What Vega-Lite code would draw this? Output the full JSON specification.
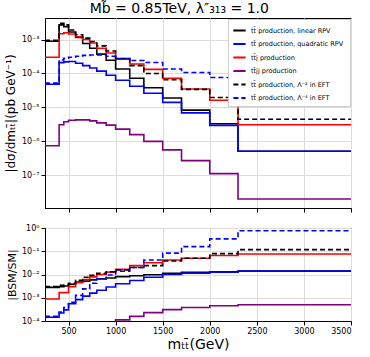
{
"$schema": "https://vega.github.io/schema/vega-lite/v6.json",
"padding": {"left": 3, "top": 1, "right": 12, "bottom": 1},
"config": {"font": "DejaVu Sans", "view": {"stroke": "black", "strokeWidth": 1},
 "axis": {"gridColor": "#dcdcdc", "gridWidth": 1, "tickColor": "black", "domainColor": "black", "labelColor": "black", "titleColor": "black", "labelFontSize": 8, "tickSize": 4, "labelPadding": 2, "titleFontWeight": "normal", "labelFont": "DejaVu Sans", "titleFont": "DejaVu Sans"}},
"title": {"text": "Mb̃ = 0.85TeV, λ″₃₁₃ = 1.0", "fontSize": 14, "fontWeight": "normal", "anchor": "middle", "offset": 2, "font": "DejaVu Sans"},
"datasets": {"d": [
{"m":250,"s":"lin","v":8.9e-4,"r":2.8e-3},{"m":400,"s":"lin","v":2.69e-3,"r":3.0e-3},{"m":450,"s":"lin","v":2.4e-3,"r":3.2e-3},{"m":500,"s":"lin","v":1.66e-3,"r":3.8e-3},{"m":575,"s":"lin","v":1.15e-3,"r":4.7e-3},{"m":650,"s":"lin","v":7.6e-4,"r":5.2e-3},{"m":725,"s":"lin","v":5.5e-4,"r":5.9e-3},{"m":800,"s":"lin","v":3.7e-4,"r":6.5e-3},{"m":900,"s":"lin","v":2.45e-4,"r":7.1e-3},{"m":1000,"s":"lin","v":1.35e-4,"r":8.1e-3},{"m":1150,"s":"lin","v":7.2e-5,"r":8.9e-3},{"m":1300,"s":"lin","v":3.8e-5,"r":9.8e-3},{"m":1500,"s":"lin","v":1.9e-5,"r":1.12e-2},{"m":1700,"s":"lin","v":8.3e-6,"r":1.23e-2},{"m":2000,"s":"lin","v":3.3e-6,"r":1.32e-2},{"m":2300,"s":"lin","v":5.1e-7,"r":1.4e-2},{"m":3500,"s":"lin","v":5.1e-7,"r":1.4e-2},
{"m":250,"s":"quad","v":4.8e-5,"r":1.45e-4},{"m":400,"s":"quad","v":2.09e-4,"r":2.2e-4},{"m":450,"s":"quad","v":2.19e-4,"r":3.0e-4},{"m":500,"s":"quad","v":2.24e-4,"r":5.5e-4},{"m":575,"s":"quad","v":2.0e-4,"r":8.3e-4},{"m":650,"s":"quad","v":1.7e-4,"r":1.17e-3},{"m":725,"s":"quad","v":1.45e-4,"r":1.58e-3},{"m":800,"s":"quad","v":1.17e-4,"r":2.1e-3},{"m":900,"s":"quad","v":8.9e-5,"r":2.9e-3},{"m":1000,"s":"quad","v":6.3e-5,"r":4.0e-3},{"m":1150,"s":"quad","v":4.2e-5,"r":5.5e-3},{"m":1300,"s":"quad","v":2.6e-5,"r":7.6e-3},{"m":1500,"s":"quad","v":1.41e-5,"r":1.0e-2},{"m":1700,"s":"quad","v":6.9e-6,"r":1.15e-2},{"m":2000,"s":"quad","v":2.95e-6,"r":1.26e-2},{"m":2300,"s":"quad","v":5.1e-7,"r":1.4e-2},{"m":3500,"s":"quad","v":5.1e-7,"r":1.4e-2},
{"m":250,"s":"ttj","v":3.0e-4,"r":8.9e-4},{"m":400,"s":"ttj","v":1.48e-3,"r":1.66e-3},{"m":450,"s":"ttj","v":1.58e-3,"r":1.66e-3},{"m":500,"s":"ttj","v":1.45e-3,"r":3.0e-3},{"m":575,"s":"ttj","v":1.2e-3,"r":4.4e-3},{"m":650,"s":"ttj","v":1.0e-3,"r":6.0e-3},{"m":725,"s":"ttj","v":7.9e-4,"r":7.9e-3},{"m":800,"s":"ttj","v":5.5e-4,"r":1.0e-2},{"m":900,"s":"ttj","v":4.0e-4,"r":1.26e-2},{"m":1000,"s":"ttj","v":2.63e-4,"r":1.66e-2},{"m":1150,"s":"ttj","v":1.9e-4,"r":2.4e-2},{"m":1300,"s":"ttj","v":1.32e-4,"r":3.2e-2},{"m":1500,"s":"ttj","v":7.2e-5,"r":4.2e-2},{"m":1700,"s":"ttj","v":3.5e-5,"r":5.0e-2},{"m":2000,"s":"ttj","v":1.62e-5,"r":6.6e-2},{"m":2300,"s":"ttj","v":3.1e-6,"r":7.6e-2},{"m":3500,"s":"ttj","v":3.1e-6,"r":7.6e-2},
{"m":250,"s":"ttjj","v":7.4e-7,"r":2.3e-6},{"m":400,"s":"ttjj","v":3.1e-6,"r":3.5e-6},{"m":450,"s":"ttjj","v":3.8e-6,"r":5.0e-6},{"m":500,"s":"ttjj","v":4.2e-6,"r":9.5e-6},{"m":575,"s":"ttjj","v":4.3e-6,"r":1.7e-5},{"m":650,"s":"ttjj","v":4.3e-6,"r":3.0e-5},{"m":725,"s":"ttjj","v":4.0e-6,"r":4.3e-5},{"m":800,"s":"ttjj","v":3.5e-6,"r":6.2e-5},{"m":900,"s":"ttjj","v":3.0e-6,"r":8.7e-5},{"m":1000,"s":"ttjj","v":2.3e-6,"r":1.12e-4},{"m":1150,"s":"ttjj","v":1.58e-6,"r":1.58e-4},{"m":1300,"s":"ttjj","v":1.0e-6,"r":2.3e-4},{"m":1500,"s":"ttjj","v":5.6e-7,"r":3.1e-4},{"m":1700,"s":"ttjj","v":2.7e-7,"r":3.8e-4},{"m":2000,"s":"ttjj","v":1.12e-7,"r":4.5e-4},{"m":2300,"s":"ttjj","v":2.0e-8,"r":5.0e-4},{"m":3500,"s":"ttjj","v":2.0e-8,"r":5.0e-4},
{"m":250,"s":"eft2","v":9.5e-4,"r":3.0e-3},{"m":400,"s":"eft2","v":3.0e-3,"r":3.4e-3},{"m":450,"s":"eft2","v":2.69e-3,"r":3.5e-3},{"m":500,"s":"eft2","v":1.9e-3,"r":4.2e-3},{"m":575,"s":"eft2","v":1.38e-3,"r":5.6e-3},{"m":650,"s":"eft2","v":1.1e-3,"r":7.6e-3},{"m":725,"s":"eft2","v":8.7e-4,"r":9.3e-3},{"m":800,"s":"eft2","v":6.5e-4,"r":1.12e-2},{"m":900,"s":"eft2","v":4.6e-4,"r":1.32e-2},{"m":1000,"s":"eft2","v":2.75e-4,"r":1.58e-2},{"m":1150,"s":"eft2","v":1.7e-4,"r":2.0e-2},{"m":1300,"s":"eft2","v":1.0e-4,"r":2.4e-2},{"m":1500,"s":"eft2","v":6.5e-5,"r":3.8e-2},{"m":1700,"s":"eft2","v":3.4e-5,"r":5.0e-2},{"m":2000,"s":"eft2","v":1.95e-5,"r":7.9e-2},{"m":2300,"s":"eft2","v":4.5e-6,"r":1.17e-1},{"m":3500,"s":"eft2","v":4.5e-6,"r":1.17e-1},
{"m":250,"s":"eft4","v":5.2e-5,"r":1.6e-4},{"m":400,"s":"eft4","v":2.5e-4,"r":2.4e-4},{"m":450,"s":"eft4","v":2.8e-4,"r":3.8e-4},{"m":500,"s":"eft4","v":3.0e-4,"r":6.3e-4},{"m":575,"s":"eft4","v":3.2e-4,"r":1.26e-3},{"m":650,"s":"eft4","v":3.4e-4,"r":2.4e-3},{"m":725,"s":"eft4","v":3.5e-4,"r":4.2e-3},{"m":800,"s":"eft4","v":3.5e-4,"r":6.6e-3},{"m":900,"s":"eft4","v":3.2e-4,"r":9.5e-3},{"m":1000,"s":"eft4","v":2.75e-4,"r":1.38e-2},{"m":1150,"s":"eft4","v":2.4e-4,"r":2.0e-2},{"m":1300,"s":"eft4","v":2.1e-4,"r":4.2e-2},{"m":1500,"s":"eft4","v":1.35e-4,"r":8.3e-2},{"m":1700,"s":"eft4","v":1.07e-4,"r":1.58e-1},{"m":2000,"s":"eft4","v":7.6e-5,"r":3.4e-1},{"m":2300,"s":"eft4","v":2.95e-5,"r":7.6e-1},{"m":3500,"s":"eft4","v":2.95e-5,"r":7.6e-1}
]},
"data": {"name": "d"},
"spacing": 10,
"resolve": {"scale": {"color": "independent", "strokeDash": "independent"}, "legend": {"color": "independent", "strokeDash": "independent"}},
"vconcat": [
{
 "width": 306, "height": 190,
 "mark": {"type": "line", "interpolate": "step-after", "strokeWidth": 1.6},
 "encoding": {
  "x": {"field": "m", "type": "quantitative", "scale": {"domain": [250, 3500], "nice": false, "zero": false}, "axis": {"values": [500,1000,1500,2000,2500,3000,3500], "labels": false, "title": null}},
  "y": {"field": "v", "type": "quantitative", "scale": {"type": "log", "domain": [1.09e-8, 4.3e-3], "nice": false}, "axis": {"values": [1e-7,1e-6,1e-5,1e-4,1e-3], "labelExpr": "'10' + (datum.value < 1 ? '⁻' : '') + substring('⁰¹²³⁴⁵⁶⁷⁸⁹', abs(round(log(datum.value)/LN10)), abs(round(log(datum.value)/LN10))+1)", "title": "|dσ/dmₜₜ̄|(pb GeV⁻¹)", "titleFontSize": 12, "titlePadding": 4}},
  "color": {"field": "s", "type": "nominal", "scale": {"domain": ["lin","quad","ttj","ttjj","eft2","eft4"], "range": ["#000000","#0000ff","#ff0000","#800080","#000000","#0000ff"]},
   "legend": {"orient": "top-right", "offset": 1, "title": null, "fillColor": "white", "strokeColor": "#cccccc", "padding": 4, "labelFontSize": 6.5, "symbolType": "stroke", "symbolSize": 150, "symbolStrokeWidth": 2, "rowPadding": 1.5, "labelLimit": 200, "labelExpr": "datum.label == 'lin' ? 'tt̄ production, linear RPV' : datum.label == 'quad' ? 'tt̄ production,  quadratic RPV' : datum.label == 'ttj' ? 'tt̄j production' : datum.label == 'ttjj' ? 'tt̄jj production' : datum.label == 'eft2' ? 'tt̄ production, Λ⁻² in EFT' : 'tt̄ production, Λ⁻⁴ in EFT'"}},
  "strokeDash": {"field": "s", "type": "nominal", "scale": {"domain": ["lin","quad","ttj","ttjj","eft2","eft4"], "range": [[1,0],[1,0],[1,0],[1,0],[5,3],[5,3]]},
   "legend": {"orient": "top-right", "offset": 1, "title": null, "fillColor": "white", "strokeColor": "#cccccc", "padding": 4, "labelFontSize": 6.5, "symbolType": "stroke", "symbolSize": 150, "symbolStrokeWidth": 2, "rowPadding": 1.5, "labelLimit": 200, "labelExpr": "datum.label == 'lin' ? 'tt̄ production, linear RPV' : datum.label == 'quad' ? 'tt̄ production,  quadratic RPV' : datum.label == 'ttj' ? 'tt̄j production' : datum.label == 'ttjj' ? 'tt̄jj production' : datum.label == 'eft2' ? 'tt̄ production, Λ⁻² in EFT' : 'tt̄ production, Λ⁻⁴ in EFT'"}}
 }
},
{
 "width": 306, "height": 93,
 "mark": {"type": "line", "interpolate": "step-after", "strokeWidth": 1.6, "clip": true},
 "encoding": {
  "x": {"field": "m", "type": "quantitative", "scale": {"domain": [250, 3500], "nice": false, "zero": false}, "axis": {"values": [500,1000,1500,2000,2500,3000,3500], "format": "d", "title": "mₜₜ̄(GeV)", "titleFontSize": 14, "titlePadding": 2}},
  "y": {"field": "r", "type": "quantitative", "scale": {"type": "log", "domain": [1e-4, 1], "nice": false}, "axis": {"values": [1e-4,1e-3,1e-2,1e-1,1], "labelExpr": "'10' + (datum.value < 1 ? '⁻' : '') + substring('⁰¹²³⁴⁵⁶⁷⁸⁹', abs(round(log(datum.value)/LN10)), abs(round(log(datum.value)/LN10))+1)", "title": "|BSM/SM|", "titleFontSize": 11, "titlePadding": 4}},
  "color": {"field": "s", "type": "nominal", "scale": {"domain": ["lin","quad","ttj","ttjj","eft2","eft4"], "range": ["#000000","#0000ff","#ff0000","#800080","#000000","#0000ff"]}, "legend": null},
  "strokeDash": {"field": "s", "type": "nominal", "scale": {"domain": ["lin","quad","ttj","ttjj","eft2","eft4"], "range": [[1,0],[1,0],[1,0],[1,0],[5,3],[5,3]]}, "legend": null}
 }
}
]
}
